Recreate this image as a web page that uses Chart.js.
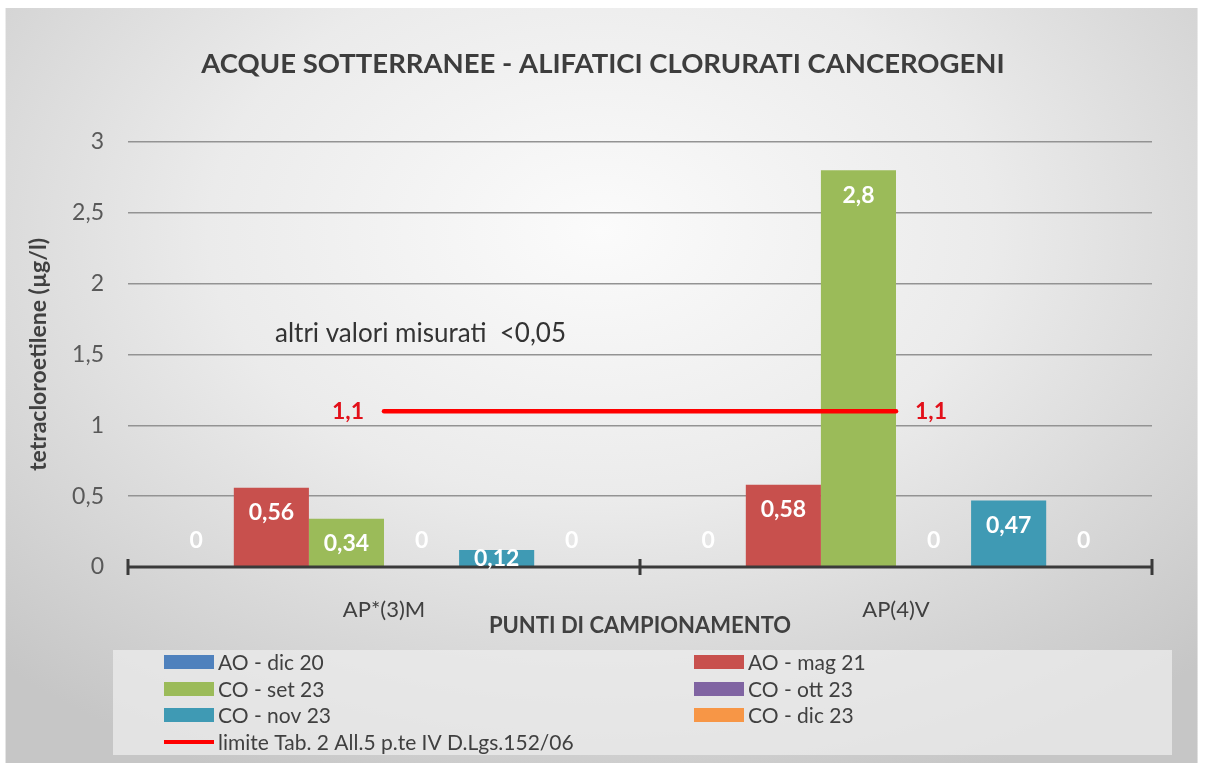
<!DOCTYPE html>
<html>
<head>
<meta charset="utf-8">
<script src="https://cdn.jsdelivr.net/npm/chart.js@4.4.1/dist/chart.umd.min.js"></script>
<style>
  html, body { margin: 0; padding: 0; background: #fff; }
  #wrap { width: 1206px; height: 763px; }
</style>
</head>
<body>
<div id="wrap"><canvas id="chart"></canvas></div>
<script>
// data
const categories = ['AP*(3)M', 'AP(4)V']
const seriesNames = ['AO - dic 20', 'AO - mag 21', 'CO - set 23', 'CO - ott 23', 'CO - nov 23', 'CO - dic 23']
const seriesColors = ['#4F81BD', '#C8504D', '#9BBB59', '#8064A2', '#3F9AB4', '#F79646']
const aoDic20 = [0, 0]
const aoMag21 = [0.56, 0.58]
const coSet23 = [0.34, 2.8]
const coOtt23 = [0, 0]
const coNov23 = [0.12, 0.47]
const coDic23 = [0, 0]
const limitName = 'limite Tab. 2 All.5 p.te IV D.Lgs.152/06'
const limitValues = [1.1, 1.1]
const yMin = 0, yMax = 3, yStep = 0.5

const titleText = 'ACQUE SOTTERRANEE - ALIFATICI CLORURATI CANCEROGENI'
const yTitle = 'tetracloroetilene (µg/l)'
const xTitle = 'PUNTI DI CAMPIONAMENTO'
const noteText = 'altri valori misurati  <0,05'

const FONT = 'Lato, "Open Sans", sans-serif'
const fmt = v => String(v).replace('.', ',')

const seriesValues = [aoDic20, aoMag21, coSet23, coOtt23, coNov23, coDic23]

let datasets = seriesValues.map((vals, i) => ({
    type: 'bar',
    label: seriesNames[i],
    data: vals,
    backgroundColor: seriesColors[i],
    borderWidth: 0,
    categoryPercentage: 0.88,
    barPercentage: 1.0,
    order: 1
}))
datasets.push({
    type: 'line',
    label: limitName,
    data: limitValues,
    borderColor: '#FF0000',
    borderWidth: 4.5,
    borderCapStyle: 'round',
    pointRadius: 0,
    fill: false,
    order: 0
})

// grey gradient backdrop, legend panel, title
const backdrop = {
    id: 'backdrop',
    beforeDraw(chart) {
        let ctx = chart.ctx
        ctx.save()
        ctx.fillStyle = '#ffffff'
        ctx.fillRect(0, 0, chart.width, chart.height)
        ctx.translate(600, 230)
        ctx.scale(1.45, 1)
        let g = ctx.createRadialGradient(0, 0, 0, 0, 0, 600)
        g.addColorStop(0, '#fbfbfb')
        g.addColorStop(0.45, '#ebebeb')
        g.addColorStop(1, '#c6c6c6')
        ctx.fillStyle = g
        ctx.fillRect(-600 / 1.45 + 7 / 1.45 - 1, -222, 1192 / 1.45, 800)
        ctx.restore()
        ctx.save()
        ctx.fillStyle = 'rgba(236,236,236,0.75)'
        ctx.fillRect(113, 650, 1059, 105)

        ctx.font = 'bold 27.5px ' + FONT
        ctx.fillStyle = '#3d3d3d'
        ctx.textAlign = 'center'
        ctx.textBaseline = 'middle'
        ctx.fillText(titleText, 603, 64)
        ctx.restore()
    }
}

// x axis line, tick marks, value labels, limit labels, note
const overlay = {
    id: 'overlay',
    afterDatasetsDraw(chart) {
        let ctx = chart.ctx
        let x = chart.scales.x, y = chart.scales.y
        let base = y.getPixelForValue(0)
        ctx.save()
        ctx.strokeStyle = '#3a3a3a'
        ctx.lineWidth = 3
        ctx.beginPath()
        ctx.moveTo(x.left, base)
        ctx.lineTo(x.right, base)
        let mid = (x.getPixelForValue(0) + x.getPixelForValue(1)) / 2
        ;[x.left, mid, x.right].forEach(px => {
            ctx.moveTo(px, base - 8)
            ctx.lineTo(px, base + 8)
        })
        ctx.stroke()

        // bar value labels
        ctx.textAlign = 'center'
        ctx.textBaseline = 'middle'
        ctx.font = 'bold 23px ' + FONT
        ctx.fillStyle = '#ffffff'
        chart.data.datasets.forEach((ds, di) => {
            if (ds.type !== 'bar') return
            chart.getDatasetMeta(di).data.forEach((bar, i) => {
                let v = ds.data[i]
                let ly = v === 0 ? base - 26 : Math.min(bar.y + 25, base - 8)
                ctx.fillText(fmt(v), bar.x, ly)
            })
        })

        // limit line labels
        let lineIdx = chart.data.datasets.findIndex(d => d.type === 'line')
        let pts = chart.getDatasetMeta(lineIdx).data
        ctx.fillStyle = '#E2101A'
        ctx.textAlign = 'right'
        ctx.fillText(fmt(limitValues[0]), pts[0].x - 20, pts[0].y)
        ctx.textAlign = 'left'
        ctx.fillText(fmt(limitValues[1]), pts[1].x + 19, pts[1].y)

        // note
        ctx.font = '26px ' + FONT
        ctx.fillStyle = '#333333'
        ctx.fillText(noteText, x.left + 147, y.getPixelForValue(1.65))
        ctx.restore()
    },
    afterDraw(chart) {
        // legend, two columns
        let ctx = chart.ctx
        ctx.save()
        ctx.font = '21px ' + FONT
        ctx.textBaseline = 'middle'
        ctx.textAlign = 'left'
        let colX = [164, 694]
        let rowY = [662, 689, 715, 742]
        chart.data.datasets.forEach((ds, i) => {
            let cx = colX[i % 2], cy = rowY[Math.floor(i / 2)]
            if (ds.type === 'line') {
                ctx.strokeStyle = ds.borderColor
                ctx.lineWidth = 4
                ctx.beginPath()
                ctx.moveTo(cx, cy)
                ctx.lineTo(cx + 50, cy)
                ctx.stroke()
            } else {
                ctx.fillStyle = ds.backgroundColor
                ctx.fillRect(cx, cy - 7, 50, 14)
            }
            ctx.fillStyle = '#404040'
            ctx.fillText(ds.label, cx + 54, cy + 1)
        })
        ctx.restore()
    }
}

let ctx = document.getElementById('chart').getContext('2d')
let chart = new Chart(ctx, {
    data: { labels: categories, datasets: datasets },
    plugins: [backdrop, overlay],
    options: {
        responsive: true,
        maintainAspectRatio: false,
        animation: false,
        layout: { padding: { left: 0, right: 54, top: 142, bottom: 118 } },
        plugins: {
            legend: { display: false },
            tooltip: { enabled: false },
            title: { display: false }
        },
        scales: {
            x: {
                grid: { display: false, drawTicks: false },
                border: { display: false },
                ticks: { color: '#404040', font: { family: FONT, size: 22 }, padding: 30 },
                title: {
                    display: true,
                    text: xTitle,
                    color: '#404040',
                    font: { family: FONT, size: 22, weight: 'bold' },
                    padding: { top: 0, bottom: 6 }
                },
                afterFit(s) { s.height = 78 }
            },
            y: {
                min: yMin,
                max: yMax,
                grid: { color: '#939393', lineWidth: 1.6, drawTicks: false },
                border: { display: false },
                ticks: {
                    stepSize: yStep,
                    color: '#595959',
                    font: { family: FONT, size: 23 },
                    padding: 24,
                    callback: v => fmt(v)
                },
                title: {
                    display: true,
                    text: yTitle,
                    color: '#404040',
                    font: { family: FONT, size: 23, weight: 'bold' },
                    padding: { top: 25, bottom: 0 }
                },
                afterFit(s) { s.width = 128 }
            }
        }
    }
})
</script>
</body>
</html>
